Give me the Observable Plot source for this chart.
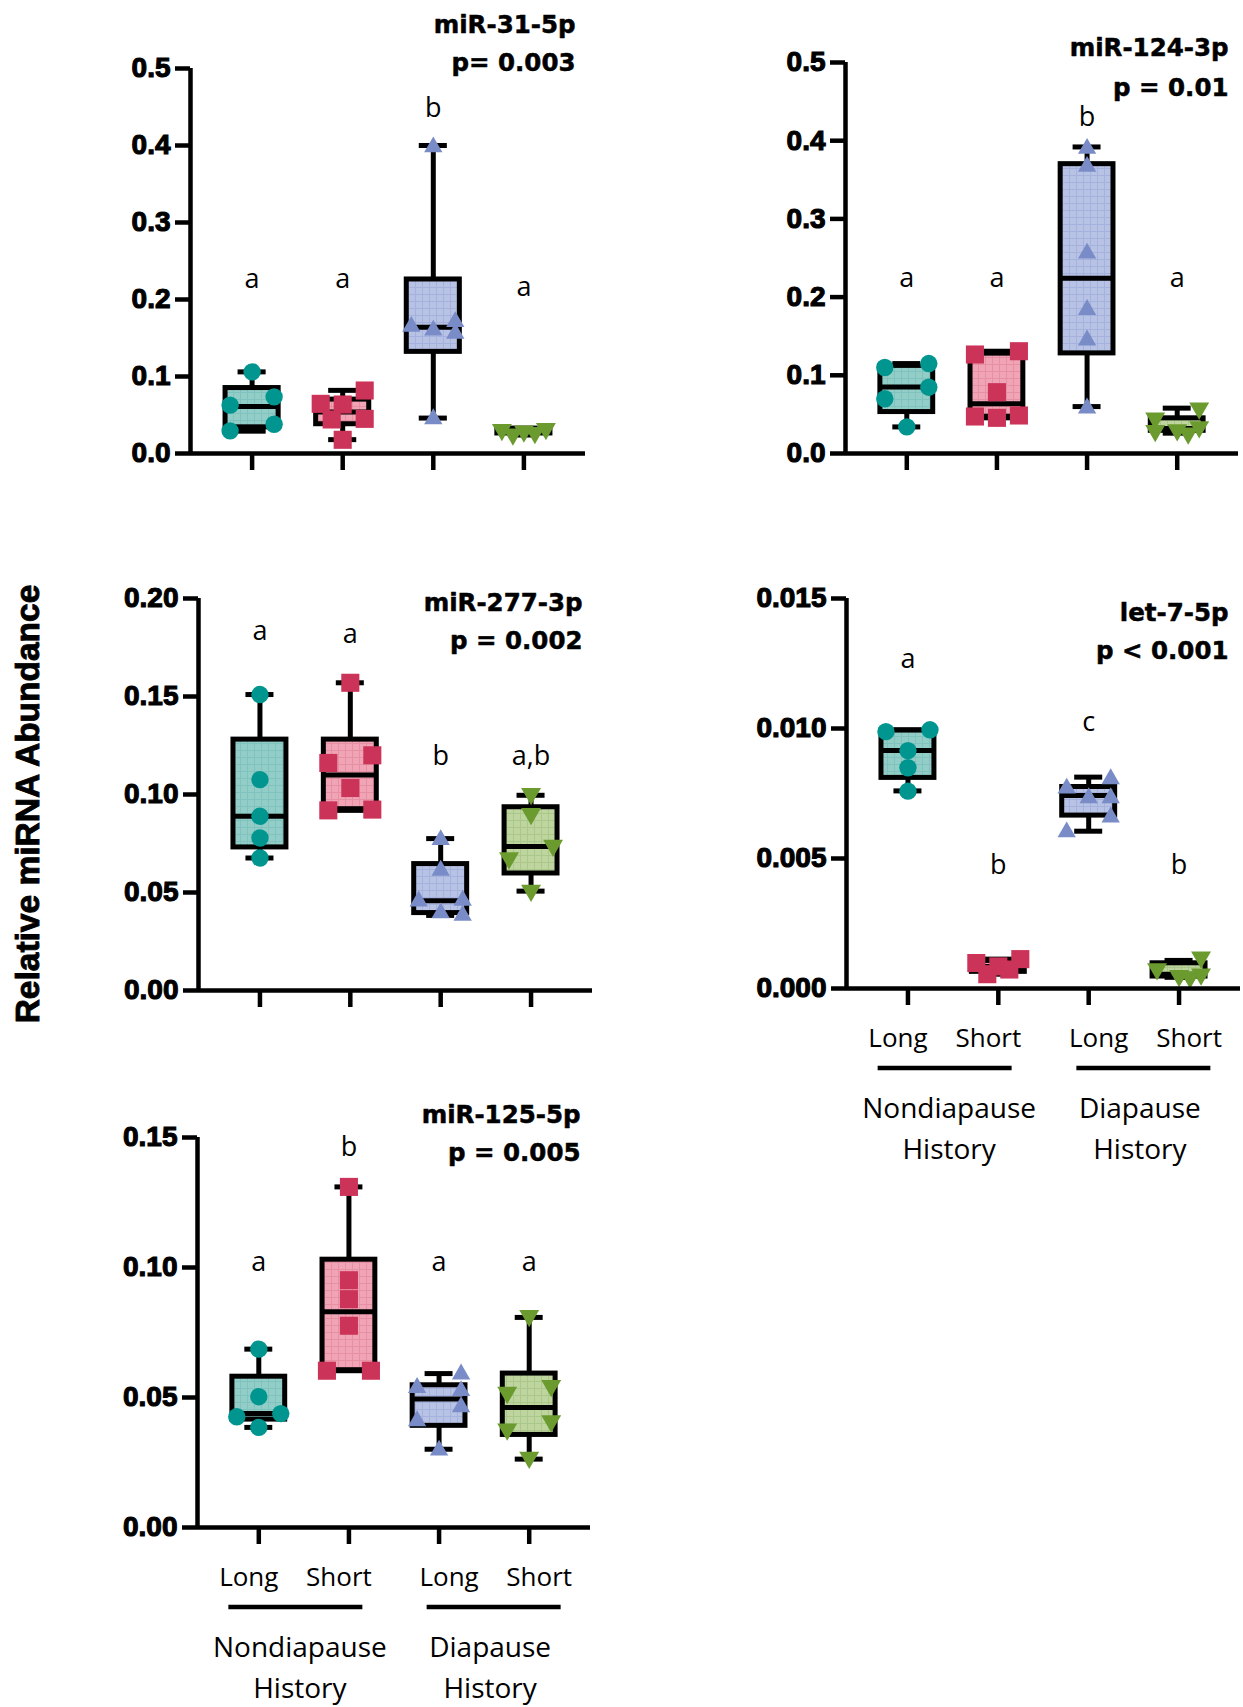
<!DOCTYPE html>
<html><head><meta charset="utf-8">
<script src="https://cdn.jsdelivr.net/npm/d3@7"></script>
<script src="https://cdn.jsdelivr.net/npm/@observablehq/plot@0.6"></script>
<style>
body{margin:0;background:#fff;}
#root{position:relative;width:1243px;height:1707px;overflow:hidden;background:#fff;}
.panel{position:absolute;}
#ytitle{position:absolute;left:28px;top:804px;transform:translate(-50%,-50%) rotate(-90deg);font-family:"Liberation Sans";font-weight:bold;font-size:33.5px;white-space:nowrap;color:#000;-webkit-text-stroke:0.9px #000;}
</style></head><body>
<svg width="0" height="0" style="position:absolute"><defs id="defs"></defs></svg>
<div id="root"><div id="ytitle">Relative miRNA Abundance</div></div>
<script>
// ---------------- DATA ----------------
const groups = ["Nondiapause Long", "Nondiapause Short", "Diapause Long", "Diapause Short"];
const photoperiods = ["Long", "Short", "Long", "Short"];
const histories = ["Nondiapause\nHistory", "Diapause\nHistory"];

// miR-31-5p
const mir31Points = [
  [0.106, 0.0736, 0.0628, 0.038, 0.0294],
  [0.0818, 0.0645, 0.0636, 0.045, 0.0442, 0.0178],
  [0.398, 0.171, 0.165, 0.160, 0.156, 0.045],
  [0.032, 0.031, 0.029, 0.027, 0.025]
];
const mir31Box = [ // min, q1, median, q3, max
  [0.029, 0.034, 0.061, 0.085, 0.106],
  [0.018, 0.038, 0.054, 0.070, 0.082],
  [0.046, 0.132, 0.164, 0.226, 0.400],
  [0.024, 0.026, 0.029, 0.031, 0.033]
];
const mir31Letters = ["a", "a", "b", "a"];
const mir31LetterY = [0.215, 0.215, 0.437, 0.205];
const mir31Ticks = [0, 0.1, 0.2, 0.3, 0.4, 0.5];

// miR-124-3p
const mir124Points = [
  [0.115, 0.110, 0.0848, 0.070, 0.034],
  [0.1308, 0.1266, 0.0784, 0.0486, 0.0473, 0.0456],
  [0.390, 0.367, 0.256, 0.184, 0.145, 0.058],
  [0.058, 0.045, 0.034, 0.030, 0.029, 0.026]
];
const mir124Box = [
  [0.034, 0.053, 0.085, 0.112, 0.115],
  [0.0456, 0.047, 0.0635, 0.1277, 0.1308],
  [0.060, 0.128, 0.224, 0.370, 0.392],
  [0.026, 0.029, 0.032, 0.045, 0.058]
];
const mir124Letters = ["a", "a", "b", "a"];
const mir124LetterY = [0.2127, 0.2127, 0.419, 0.2127];
const mir124Ticks = [0, 0.1, 0.2, 0.3, 0.4, 0.5];

// miR-277-3p
const mir277Points = [
  [0.151, 0.1076, 0.0889, 0.0778, 0.0676],
  [0.157, 0.120, 0.1161, 0.1033, 0.0923, 0.0919],
  [0.0769, 0.0613, 0.046, 0.0456, 0.0395, 0.0383],
  [0.1004, 0.0902, 0.074, 0.0676, 0.051]
];
const mir277Box = [
  [0.0676, 0.073, 0.0889, 0.128, 0.151],
  [0.0919, 0.0925, 0.110, 0.128, 0.157],
  [0.0383, 0.0395, 0.0458, 0.0645, 0.0775],
  [0.0507, 0.0597, 0.0735, 0.0935, 0.0996]
];
const mir277Letters = ["a", "a", "b", "a,b"];
const mir277LetterY = [0.1786, 0.1772, 0.1153, 0.1153];
const mir277Ticks = [0, 0.05, 0.10, 0.15, 0.20];

// let-7-5p
const let7Points = [
  [0.00995, 0.00988, 0.00915, 0.00849, 0.00759],
  [0.00113, 0.00098, 0.00085, 0.00073, 0.00055],
  [0.00806, 0.0077, 0.00733, 0.00733, 0.00659, 0.00602],
  [0.0012, 0.00075, 0.00055, 0.00049, 0.00043]
];
const let7Box = [
  [0.0076, 0.0081, 0.00915, 0.00992, 0.00995],
  [0.00055, 0.00064, 0.00085, 0.00106, 0.00113],
  [0.00605, 0.00665, 0.00742, 0.00775, 0.00813],
  [0.00043, 0.00046, 0.00055, 0.00097, 0.00108]
];
const let7Letters = ["a", "b", "c", "b"];
const let7LetterY = [0.01233, 0.00442, 0.00992, 0.00442];
const let7Ticks = [0, 0.005, 0.010, 0.015];

// miR-125-5p
const mir125Points = [
  [0.0686, 0.0503, 0.0438, 0.0426, 0.0385],
  [0.131, 0.0951, 0.0878, 0.0776, 0.0603, 0.0603],
  [0.059, 0.0538, 0.0526, 0.0464, 0.041, 0.0297],
  [0.0814, 0.0545, 0.0519, 0.041, 0.0378, 0.0269]
];
const mir125Box = [
  [0.0385, 0.0415, 0.0438, 0.058, 0.0686],
  [0.0603, 0.0605, 0.083, 0.103, 0.131],
  [0.0301, 0.0391, 0.0494, 0.0547, 0.0592],
  [0.0263, 0.0356, 0.0462, 0.0592, 0.0808]
];
const mir125Letters = ["a", "b", "a", "a"];
const mir125LetterY = [0.0986, 0.1427, 0.0986, 0.0986];
const mir125Ticks = [0, 0.05, 0.10, 0.15];

// ---------------- STYLE / LAYOUT ----------------
const markerColors = ["#00968f", "#cc3359", "#7a8cc7", "#6b9b2f"];
const boxFills = ["#93cdc8", "#f1a4b5", "#b7c2e5", "#bed59f"];
const boxGrid = ["#80c2bd", "#e691a3", "#a5b2dd", "#abc78a"];
const triDown = {draw(ctx, size) {
  const y = Math.sqrt(size / (3 * Math.sqrt(3)));
  ctx.moveTo(0, 2 * y); ctx.lineTo(-Math.sqrt(3) * y, -y); ctx.lineTo(Math.sqrt(3) * y, -y); ctx.closePath();
}};
const symbols = ["circle", "square", "triangle", triDown];
const radii = [8.7, 10.2, 6.8, 7.4];

// patterns
const defs = d3.select("#defs");
boxFills.forEach((c, i) => {
  const p = defs.append("pattern").attr("id", "pat" + i).attr("width", 7).attr("height", 7).attr("patternUnits", "userSpaceOnUse");
  p.append("rect").attr("width", 7).attr("height", 7).attr("fill", c);
  p.append("path").attr("d", "M0 0.5H7M0.5 0V7").attr("stroke", boxGrid[i]).attr("stroke-width", 1).attr("fill", "none");
});

const panels = [
  {name: "miR-31-5p", p: "p= 0.003", points: mir31Points, box: mir31Box, letters: mir31Letters, letterY: mir31LetterY, ticks: mir31Ticks, fmt: ".1f",
   left: 100, top: 0, width: 500, height: 490, mL: 90, mT: 68, mR: 15, mB: 37, tdx: -10, tdy: [-36, 2], bottom: false},
  {name: "miR-124-3p", p: "p = 0.01", points: mir124Points, box: mir124Box, letters: mir124Letters, letterY: mir124LetterY, ticks: mir124Ticks, fmt: ".1f",
   left: 740, top: 0, width: 503, height: 490, mL: 105, mT: 62, mR: 5, mB: 37, tdx: -10, tdy: [-7, 33], bottom: false},
  {name: "miR-277-3p", p: "p = 0.002", points: mir277Points, box: mir277Box, letters: mir277Letters, letterY: mir277LetterY, ticks: mir277Ticks, fmt: ".2f",
   left: 100, top: 540, width: 500, height: 490, mL: 98, mT: 58, mR: 8, mB: 40, tdx: -10, tdy: [12, 50], bottom: false},
  {name: "let-7-5p", p: "p < 0.001", points: let7Points, box: let7Box, letters: let7Letters, letterY: let7LetterY, ticks: let7Ticks, fmt: ".3f",
   left: 740, top: 540, width: 503, height: 640, mL: 106, mT: 58, mR: 3, mB: 192, tdx: -12, tdy: [22, 60], bottom: true},
  {name: "miR-125-5p", p: "p = 0.005", points: mir125Points, box: mir125Box, letters: mir125Letters, letterY: mir125LetterY, ticks: mir125Ticks, fmt: ".2f",
   left: 100, top: 1080, width: 500, height: 627, mL: 97, mT: 57, mR: 10, mB: 180, tdx: -10, tdy: [-15, 23], bottom: true}
];

const X0 = -0.68, X1 = 3.68;
const BOX = 0.293, CAP = 0.155;

// horizontal spreading of overlapping points (scatter layout)
function spread(values, ypx, xpx) {
  const D = 16, w = 22;
  const idx = values.map((v, i) => i).sort((a, b) => values[b] - values[a]);
  const clusters = []; let cur = [];
  idx.forEach((i, k) => {
    if (k > 0 && (values[idx[k - 1]] - values[i]) * ypx < D) cur.push(i);
    else { if (cur.length) clusters.push(cur); cur = [i]; }
  });
  if (cur.length) clusters.push(cur);
  const off = new Array(values.length).fill(0);
  const placed = [];
  for (const c of clusters) {
    if (c.length === 1) { placed.push(c[0]); continue; }
    let prev = -1;
    for (const i of c) {
      const s = prev === 0 ? -1 : prev;
      const cands = [-s * w, s * w, 0, -s * w / 2, s * w / 2];
      let best = cands[0], bestD = -1;
      for (const cx of cands) {
        let md = Infinity;
        for (const j of placed) md = Math.min(md, Math.hypot(cx - off[j], (values[i] - values[j]) * ypx));
        if (md >= D) { best = cx; break; }
        if (md > bestD) { bestD = md; best = cx; }
      }
      off[i] = best; placed.push(i);
      prev = Math.sign(best);
    }
  }
  return off.map(o => o / xpx);
}

const root = document.getElementById("root");
for (const P of panels) {
  const yMax = P.ticks[P.ticks.length - 1];
  const xpx = (P.width - P.mL - P.mR) / (X1 - X0);
  const ypx = (P.height - P.mT - P.mB) / yMax;
  const boxes = P.box.map((b, g) => ({g, min: b[0], q1: b[1], med: b[2], q3: b[3], max: b[4]}));
  const pts = P.points.flatMap((vals, g) => {
    const off = spread(vals, ypx, xpx);
    return vals.map((v, i) => ({g, v, dx: off[i]}));
  });
  const marks = [
    Plot.ruleX(boxes, {x: "g", y1: "min", y2: "max", stroke: "#000", strokeWidth: 5}),
    Plot.ruleY(boxes, {y: "min", x1: d => d.g - CAP, x2: d => d.g + CAP, stroke: "#000", strokeWidth: 5}),
    Plot.ruleY(boxes, {y: "max", x1: d => d.g - CAP, x2: d => d.g + CAP, stroke: "#000", strokeWidth: 5}),
    Plot.rect(boxes, {x1: d => d.g - BOX, x2: d => d.g + BOX, y1: "q1", y2: "q3", fill: d => `url(#pat${d.g})`, stroke: "#000", strokeWidth: 5}),
    Plot.ruleY(boxes, {y: "med", x1: d => d.g - BOX, x2: d => d.g + BOX, stroke: "#000", strokeWidth: 5})
  ];
  for (let g = 0; g < 4; g++) {
    marks.push(Plot.dot(pts.filter(d => d.g === g), {x: d => d.g + d.dx, y: "v", symbol: symbols[g], r: radii[g], fill: markerColors[g], stroke: "none"}));
  }
  marks.push(
    Plot.text(P.letters.map((t, g) => ({g, t, y: P.letterY[g]})), {x: "g", y: "y", text: "t", lineAnchor: "bottom", fontSize: 27, fontFamily: "Open Sans", fill: "#000"}),
    Plot.text([P.name], {frameAnchor: "top-right", textAnchor: "end", lineAnchor: "bottom", dx: P.tdx, dy: P.tdy[0], fontSize: 24.5, fontWeight: "bold", fontFamily: "DejaVu Sans", fill: "#000", stroke: "#000", strokeWidth: 0.5}),
    Plot.text([P.p], {frameAnchor: "top-right", textAnchor: "end", lineAnchor: "bottom", dx: P.tdx, dy: P.tdy[1], fontSize: 24.5, fontWeight: "bold", fontFamily: "DejaVu Sans", fill: "#000", stroke: "#000", strokeWidth: 0.5}),
    Plot.ruleX([X0], {y1: 0, y2: yMax, stroke: "#000", strokeWidth: 4.5}),
    Plot.ruleY([0], {x1: X0, x2: X1, stroke: "#000", strokeWidth: 4.5}),
    Plot.axisY({ticks: P.ticks, tickSize: 15, tickPadding: 5, stroke: "#000", strokeWidth: 4.5, tickFormat: d3.format(P.fmt), fontSize: 28, fontWeight: "bold", fontFamily: "Liberation Sans", fill: "#000", label: null}),
    Plot.axisX({ticks: [0, 1, 2, 3], tickSize: 17, stroke: "#000", strokeWidth: 4.5, tickFormat: () => "", label: null})
  );
  if (P.bottom) {
    const lab = photoperiods.map((t, g) => ({g, t}));
    marks.push(
      Plot.text(lab.slice(0, 2), {x: "g", text: "t", frameAnchor: "bottom", lineAnchor: "bottom", dx: -10, dy: 58, fontSize: 26, fontFamily: "Open Sans", fill: "#000"}),
      Plot.text(lab.slice(2), {x: "g", text: "t", frameAnchor: "bottom", lineAnchor: "bottom", dx: 10, dy: 58, fontSize: 26, fontFamily: "Open Sans", fill: "#000"}),
      Plot.text([{x: 0.5, t: histories[0]}], {x: "x", text: "t", frameAnchor: "bottom", lineAnchor: "bottom", dx: -4, dy: 170, lineHeight: 1.45, fontSize: 28, fontFamily: "Open Sans", fill: "#000"}),
      Plot.text([{x: 2.5, t: histories[1]}], {x: "x", text: "t", frameAnchor: "bottom", lineAnchor: "bottom", dx: 6, dy: 170, lineHeight: 1.45, fontSize: 28, fontFamily: "Open Sans", fill: "#000"})
    );
  }
  const chart = Plot.plot({
    width: P.width, height: P.height,
    marginLeft: P.mL, marginTop: P.mT, marginRight: P.mR, marginBottom: P.mB,
    x: {type: "linear", domain: [X0, X1]},
    y: {type: "linear", domain: [0, yMax]},
    color: {type: "identity"},
    style: {background: "none", overflow: "visible"},
    marks
  });
  d3.select(chart).selectAll("g[aria-label='y-axis tick label'] text").attr("stroke", "#000").attr("stroke-width", 1.1).attr("paint-order", "stroke");
  if (P.bottom) {
    const sx = chart.scale("x");
    const yb = P.height - P.mB + 80;
    [[0.5, -8], [2.5, 10]].forEach(([m, s]) => {
      const cx = sx.apply(m) + s;
      d3.select(chart).append("line").attr("x1", cx - 67).attr("x2", cx + 67).attr("y1", yb).attr("y2", yb)
        .attr("stroke", "#000").attr("stroke-width", 4.5);
    });
  }
  const div = document.createElement("div");
  div.className = "panel";
  div.style.left = P.left + "px"; div.style.top = P.top + "px";
  div.appendChild(chart);
  root.appendChild(div);
}
</script>
</body></html>
